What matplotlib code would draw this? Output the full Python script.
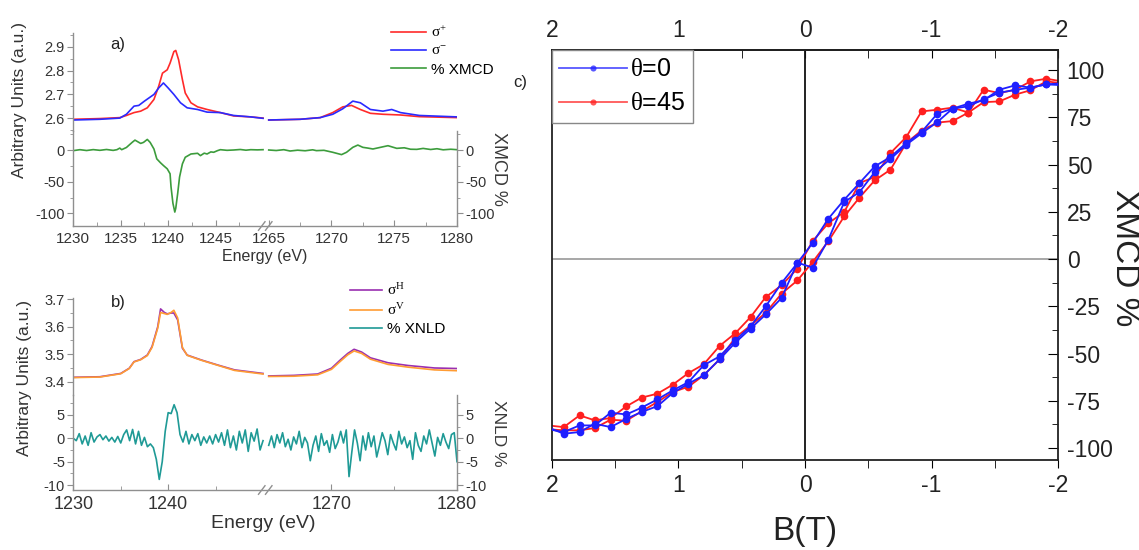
import numpy as np
import matplotlib
matplotlib.use('Agg')
import matplotlib.pyplot as plt
from matplotlib.ticker import FixedLocator, MultipleLocator

plt.rcParams['font.family'] = ['Liberation Sans', 'DejaVu Sans']
plt.rcParams['mathtext.fontset'] = 'custom'
plt.rcParams['mathtext.rm'] = 'Liberation Serif'
plt.rcParams['mathtext.it'] = 'Liberation Serif'
plt.rcParams['mathtext.bf'] = 'Liberation Serif:bold'
plt.rcParams['axes.unicode_minus'] = False

# ---------------- panel a data (XMCD spectra) ----------------
a_red_E_left = [1230.0, 1232.8, 1234.9, 1235.6, 1236.4, 1237.1, 1237.8, 1238.5, 1239.0, 1239.4,
                1239.9, 1240.2, 1240.6, 1240.8, 1241.1, 1241.5, 1241.8, 1242.4, 1243.1, 1244.1,
                1245.5, 1246.9, 1248.7, 1250.0]
a_red_left = [2.596, 2.599, 2.603, 2.612, 2.624, 2.630, 2.644, 2.679, 2.734, 2.789,
              2.803, 2.831, 2.879, 2.884, 2.845, 2.762, 2.706, 2.665, 2.648, 2.637,
              2.624, 2.610, 2.606, 2.601]
a_blue_E_left = [1230.0, 1232.8, 1234.9, 1235.6, 1236.4, 1236.9, 1237.5, 1238.0, 1238.5, 1239.0,
                 1239.5, 1240.0, 1240.6, 1241.3, 1242.0, 1243.1, 1244.1, 1245.5, 1246.9, 1248.7, 1250.0]
a_blue_left = [2.593, 2.596, 2.601, 2.617, 2.651, 2.654, 2.672, 2.686, 2.700, 2.727,
               2.748, 2.727, 2.700, 2.665, 2.644, 2.637, 2.626, 2.624, 2.612, 2.606, 2.600]
a_red_E_right = [1265.0, 1267.5, 1269.1, 1270.1, 1270.9, 1271.6, 1272.3, 1273.1, 1274.1, 1275.5, 1277.0, 1280.0]
a_red_right = [2.593, 2.596, 2.603, 2.624, 2.648, 2.654, 2.637, 2.621, 2.617, 2.614, 2.607, 2.603]
a_blue_E_right = [1265.0, 1267.5, 1269.1, 1270.1, 1270.9, 1271.7, 1272.3, 1273.1, 1274.1, 1274.8, 1275.5, 1277.0, 1280.0]
a_blue_right = [2.593, 2.596, 2.603, 2.617, 2.640, 2.672, 2.665, 2.637, 2.630, 2.637, 2.624, 2.612, 2.606]

a_xmcd_E_left = [1230.0, 1230.7, 1231.4, 1232.1, 1232.8, 1233.5, 1234.2, 1234.6, 1234.9, 1235.1,
                 1235.6, 1236.2, 1236.5, 1236.8, 1237.1, 1237.4, 1237.8, 1238.1, 1238.5, 1238.8,
                 1239.2, 1239.5, 1239.9, 1240.2, 1240.3, 1240.5, 1240.7, 1240.8, 1241.0, 1241.2,
                 1241.5, 1241.8, 1242.4, 1243.1, 1243.4, 1243.8, 1244.1, 1244.5, 1244.8, 1245.2,
                 1245.5, 1246.2, 1246.9, 1247.6, 1248.2, 1248.7, 1249.4, 1250.0]
a_xmcd_left = [-1, 0.5, -0.8, 0.6, -0.5, 0.8, -0.6, 0.5, 3.0, 0.5,
               4, 12, 15.6, 13, 10.4, 12, 16.7, 12, 1.6, -14,
               -20.3, -24.5, -29.7, -37.5, -58, -84, -98, -92, -69, -42.7,
               -21.9, -11.5, -6.3, -5.2, -8.9, -5, -6.3, -3, -3.6, -1,
               0.5, -0.5, 0, 0.8, -0.3, 0.5, 0.2, 0.5]
a_xmcd_E_right = [1265.0, 1265.6, 1266.2, 1266.7, 1267.3, 1267.9, 1268.5, 1268.8, 1269.4, 1270.1,
                  1270.8, 1271.2, 1271.7, 1272.1, 1272.5, 1272.9, 1273.3, 1273.9, 1274.5, 1275.2,
                  1275.8, 1276.3, 1276.8, 1277.3, 1277.9, 1278.4, 1278.9, 1279.5, 1280.0]
a_xmcd_right = [0, -0.8, 0.5, -1.6, -0.3, -1.2, 0.3, -1, -0.5, -3.6,
                -7.3, -3.6, 4.2, 7.8, 4.2, 3, 1.6, 4.2, 6.8, 2.6,
                3.5, 1.2, 1, 2.5, 0.8, 2, 0.3, 1.2, 0.5]

# ---------------- panel b data (XNLD spectra) ----------------
b_E_left = [1230.0, 1232.8, 1235.0, 1235.9, 1236.4, 1237.1, 1237.8, 1238.3, 1238.9, 1239.2,
            1239.6, 1239.9, 1240.3, 1240.6, 1241.0, 1241.5, 1242.0, 1243.5, 1245.2, 1247.0, 1250.0]
b_H_left = [3.416, 3.418, 3.430, 3.449, 3.473, 3.481, 3.497, 3.528, 3.600, 3.665,
            3.652, 3.647, 3.650, 3.650, 3.625, 3.522, 3.497, 3.479, 3.461, 3.443, 3.430]
b_V_left = [3.415, 3.417, 3.429, 3.448, 3.472, 3.480, 3.495, 3.525, 3.595, 3.652,
            3.648, 3.645, 3.652, 3.660, 3.632, 3.525, 3.496, 3.478, 3.460, 3.441, 3.428]
b_E_right = [1265.0, 1267.0, 1268.9, 1270.0, 1270.7, 1271.3, 1271.8, 1272.4, 1273.1, 1274.5,
             1276.1, 1278.2, 1280.0]
b_H_right = [3.421, 3.423, 3.428, 3.449, 3.479, 3.503, 3.518, 3.508, 3.487, 3.469, 3.459, 3.450, 3.448]
b_V_right = [3.419, 3.420, 3.425, 3.445, 3.474, 3.498, 3.512, 3.503, 3.482, 3.463, 3.453, 3.443, 3.440]

b_xnld_left = [0, -0.5, 1, -1.2, 0.5, -1.5, 1.2, -0.8, 0.3, 0.8, -0.3, 0.5, -0.6, 0.2, -0.8, 0.4,
               -1, 0.8, 1.8, -0.5, 1.9, -1.2, 1.5, -1.5, 0.2, -1.8,
               -1.2, -2, -4.5, -8.8, -5, 1.5, 5.5, 5.3, 7.2, 5.5, 0.8, -0.8, 1.5,
               -1.2, 0.8, -0.5, 1, -1.5, 0.3, -1, 0.5, -1.2, 0.8, -0.8, 1.2, -1.5, 1.8, -2, 0.5,
               -2.5, 1.5, -1, 1.8, -2.8, 1.2, -0.6, 2.0, -2.5, -0.5]
b_xnld_right = [-1.5, 0.5, -2, 0.8, -1, 1.2, -1.8, -0.2, -2.5, 0.3,
                -1.2, 1.5, -2, 0.2, -1, -4.8, -1.5, 0.5, -2.8, 1,
                -1.5, -0.5, -3, 0.8, -2.2, -0.8, 1.5, -1, 1.8, -8.2,
                -3, 1.8, -1, -4.8, 0.5, -2.5, 1.2, -1.8, 0.5, -4,
                -1.5, 1.2, -0.5, -3.5, 0.8, -1, -2.5, 1.5, -1.2, 0.3,
                -2, -0.5, -4.5, 1.2, -1.5, -2.8, 0.5, -1.2, 1.8, -1,
                -3.8, 0.2, -1.5, 1, -0.8, -2.2, 0.8, 1.2, -5]
b_xnld_E_left = np.linspace(1230, 1250, len(b_xnld_left))
b_xnld_E_right = np.linspace(1265, 1280, len(b_xnld_right))

# ---------------- panel c data (hysteresis) ----------------
B_field = [2.03, 1.905, 1.78, 1.66, 1.535, 1.41, 1.29, 1.165, 1.045, 0.92, 0.80, 0.675, 0.55, 0.43,
           0.31, 0.185, 0.06, -0.06, -0.185, -0.31, -0.43, -0.55, -0.675, -0.80, -0.92, -1.045,
           -1.165, -1.29, -1.41, -1.535, -1.66, -1.78, -1.905, -2.03]
xmcd_t0_a = [-90, -91.5, -88, -88, -81.3, -82.2, -78.6, -74.2, -69.5, -65.1, -56.2, -51.5, -43, -35.6,
             -25, -12.7, -2.1, 8.5, 21.4, 31.4, 40.2, 49, 54, 61.4, 67.2, 76.9,
             79.6, 82.2, 84, 89.6, 91.9, 90.7, 92.4, 93]
xmcd_t0_b = [-89, -92.4, -91.5, -87.1, -88.9, -84.5, -80.9, -77.8, -70.9, -65.9, -61.5, -53.1, -44.2, -36.8,
             -29.3, -20.6, -1.9, -4.5, 10.3, 30.2, 35.4, 46, 53, 60.5, 66.5, 72.5,
             79.6, 80.8, 84.5, 88, 89.5, 90.7, 92.4, 92]
xmcd_t45_a = [-88, -88.9, -82.7, -85.3, -84.1, -77.9, -73.3, -71.2, -66.5, -60.3, -55.7, -46, -39.2, -30.7,
              -20.1, -13.9, -5, 9.5, 19, 24.9, 40.2, 43.4, 56.1, 64.6, 78.1, 79,
              80.1, 77.5, 89.6, 87.8, 89.6, 94, 95.4, 94]
xmcd_t45_b = [-90, -90.6, -90.6, -89.4, -85, -85.5, -80.5, -75.6, -70.4, -67.5, -61.5, -53.1, -41.5, -35.2,
              -28.4, -18.3, -11.3, -1.6, 9.5, 22.6, 32.5, 41.6, 47.3, 61.4, 68, 72.2,
              73, 77.5, 83, 83.4, 87, 89.3, 94, 93]

# ---------------- figure ----------------
W, H = 1139, 550
fig = plt.figure(figsize=(W / 100, H / 100), dpi=100)


def box(x0, y0, x1, y1):
    return [x0 / W, 1 - y1 / H, (x1 - x0) / W, (y1 - y0) / H]


def e_fwd(e):
    e = np.asarray(e, dtype=float)
    return np.where(e <= 1250, e,
                    np.where(e >= 1265, 1250.6 + (e - 1265) * 1.323, 1250 + (e - 1250) * 0.04))


def e_inv(u):
    u = np.asarray(u, dtype=float)
    return np.where(u <= 1250, u,
                    np.where(u >= 1250.6, 1265 + (u - 1250.6) / 1.323, 1250 + (u - 1250) / 0.04))


GRAY = '#8f8f8f'
TXT = '#333333'


def style_pair(ax_s, ax_d, xmaj, xmin, xlab, s_ticks, s_lim, d_ticks, d_minor, d_lim, s_minor):
    for ax in (ax_s, ax_d):
        ax.set_xscale('function', functions=(e_fwd, e_inv))
        ax.set_xlim(1230, 1280)
        ax.patch.set_alpha(0)
        for sp in ax.spines.values():
            sp.set_color(GRAY)
            sp.set_linewidth(1.0)
    ax_s.spines['top'].set_visible(False)
    ax_s.spines['right'].set_visible(False)
    ax_s.spines['bottom'].set_visible(False)
    ax_d.spines['top'].set_visible(False)
    ax_s.set_ylim(*s_lim)
    ax_s.yaxis.set_major_locator(FixedLocator(s_ticks))
    ax_s.yaxis.set_minor_locator(FixedLocator(s_minor))
    ax_s.set_yticklabels([f'{t:.1f}' for t in s_ticks])
    ax_s.tick_params(axis='x', which='both', bottom=False, labelbottom=False)
    ax_s.tick_params(axis='y', which='both', direction='out', color=GRAY, labelcolor=TXT,
                     labelsize=10.5, pad=2)
    ax_s.tick_params(axis='y', which='major', length=4)
    ax_s.tick_params(axis='y', which='minor', length=2.5)
    ax_d.set_ylim(*d_lim)
    ax_d.yaxis.set_major_locator(FixedLocator(d_ticks))
    ax_d.yaxis.set_minor_locator(FixedLocator(d_minor))
    ax_d.tick_params(axis='y', which='both', direction='out', left=True, right=True,
                     labelleft=True, labelright=True, color=GRAY, labelcolor=TXT,
                     labelsize=10.5, pad=2)
    ax_d.tick_params(axis='y', which='major', length=4)
    ax_d.tick_params(axis='y', which='minor', length=2.5)
    ax_d.xaxis.set_major_locator(FixedLocator(xmaj))
    ax_d.xaxis.set_minor_locator(FixedLocator(xmin))
    ax_d.set_xticklabels([str(t) for t in xmaj])
    ax_d.tick_params(axis='x', which='both', direction='in', color=GRAY, labelcolor=TXT,
                     labelsize=xlab, pad=4)
    ax_d.tick_params(axis='x', which='major', length=4)
    ax_d.tick_params(axis='x', which='minor', length=3)
    # axis-break marks on the bottom spine
    for xa, xb in ((0.4827, 0.4996), (0.5009, 0.5178)):
        ax_d.plot([xa, xb], [-0.045, 0.045], transform=ax_d.transAxes, color=GRAY,
                  lw=1.0, clip_on=False)


# ---------------- panel a ----------------
axa_s = fig.add_axes(box(73.3, 33, 457, 131))
axa_d = fig.add_axes(box(73.3, 131, 457, 226))
style_pair(axa_s, axa_d,
           xmaj=[1230, 1235, 1240, 1245, 1265, 1270, 1275, 1280],
           xmin=[1232.5, 1237.5, 1242.5, 1247.5, 1267.5, 1272.5, 1277.5],
           xlab=11,
           s_ticks=[2.6, 2.7, 2.8, 2.9], s_lim=(2.547, 2.957),
           s_minor=[2.55, 2.65, 2.75, 2.85, 2.95],
           d_ticks=[0, -50, -100], d_minor=[25, -25, -75], d_lim=(-120, 30))

RED, BLUE, GREEN = '#ff2a2a', '#2a2aff', '#3c9c3c'
l1, = axa_s.plot(a_red_E_left, a_red_left, color=RED, lw=1.2, label=r'$\sigma^{+}$')
axa_s.plot(a_red_E_right, a_red_right, color=RED, lw=1.2)
l2, = axa_s.plot(a_blue_E_left, a_blue_left, color=BLUE, lw=1.2, label=r'$\sigma^{-}$')
axa_s.plot(a_blue_E_right, a_blue_right, color=BLUE, lw=1.2)
l3, = axa_d.plot(a_xmcd_E_left, a_xmcd_left, color=GREEN, lw=1.2, label='% XMCD')
axa_d.plot(a_xmcd_E_right, a_xmcd_right, color=GREEN, lw=1.2)

fig.legend(handles=[l1, l2, l3], loc='upper left', bbox_to_anchor=(391 / W, 1 - 25 / H),
           frameon=False, fontsize=11, handlelength=2.3, handletextpad=0.35,
           labelspacing=0.28, borderpad=0, borderaxespad=0)
fig.text(118 / W, 1 - 45 / H, 'a)', fontsize=12, ha='center', va='center', color='#222')
fig.text(20 / W, 1 - 100 / H, 'Arbitrary Units (a.u.)', rotation=90, fontsize=12.5,
         ha='center', va='center', color='#333')
fig.text(499 / W, 1 - 169 / H, 'XMCD %', rotation=270, fontsize=13,
         ha='center', va='center', color='#3a3a3a')
fig.text(265 / W, 1 - 256 / H, 'Energy (eV)', fontsize=11.5, ha='center', va='center',
         color='#333')

# ---------------- panel b ----------------
axb_s = fig.add_axes(box(73.3, 298, 457, 395))
axb_d = fig.add_axes(box(73.3, 395, 457, 490))
style_pair(axb_s, axb_d,
           xmaj=[1230, 1240, 1270, 1280],
           xmin=[1235, 1245, 1275],
           xlab=13,
           s_ticks=[3.4, 3.5, 3.6, 3.7], s_lim=(3.3516, 3.7047),
           s_minor=[3.45, 3.55, 3.65],
           d_ticks=[5, 0, -5, -10], d_minor=[7.5, 2.5, -2.5, -7.5], d_lim=(-11.07, 9.28))

PURPLE, ORANGE, TEAL = '#9a2fb0', '#ff9c33', '#1f9a96'
m1, = axb_s.plot(b_E_left, b_H_left, color=PURPLE, lw=1.2, label=r'$\sigma^{H}$')
axb_s.plot(b_E_right, b_H_right, color=PURPLE, lw=1.2)
m2, = axb_s.plot(b_E_left, b_V_left, color=ORANGE, lw=1.2, label=r'$\sigma^{V}$')
axb_s.plot(b_E_right, b_V_right, color=ORANGE, lw=1.2)
m3, = axb_d.plot(b_xnld_E_left, b_xnld_left, color=TEAL, lw=1.2, label='% XNLD')
axb_d.plot(b_xnld_E_right, b_xnld_right, color=TEAL, lw=1.2)

fig.legend(handles=[m1, m2, m3], loc='upper left', bbox_to_anchor=(350 / W, 1 - 282 / H),
           frameon=False, fontsize=11, handlelength=2.1, handletextpad=0.35,
           labelspacing=0.28, borderpad=0, borderaxespad=0)
fig.text(118 / W, 1 - 302 / H, 'b)', fontsize=12, ha='center', va='center', color='#222')
fig.text(25 / W, 1 - 378 / H, 'Arbitrary Units (a.u.)', rotation=90, fontsize=12.5,
         ha='center', va='center', color='#333')
fig.text(499 / W, 1 - 433 / H, 'XNLD %', rotation=270, fontsize=12.5,
         ha='center', va='center', color='#3a3a3a')
fig.text(263 / W, 1 - 524 / H, 'Energy (eV)', fontsize=14, ha='center', va='center',
         color='#333')

# ---------------- panel c ----------------
axc = fig.add_axes(box(551.7, 50, 1058.3, 460))
axc.set_xlim(2, -2)
axc.set_ylim(-106.3, 110.6)
axc.axhline(0, color='#a0a0a0', lw=1.3, zorder=1)
axc.axvline(0, color='#111111', lw=1.3, zorder=1)
CB, CR = '#1f1fff', '#ff1f1f'
kw = dict(lw=1.3, marker='o', ms=5.5, mec='none')
p0, = axc.plot(B_field, xmcd_t0_a, color=CB, label=r'$\theta$=0', zorder=3, **kw)
axc.plot(B_field, xmcd_t0_b, color=CB, zorder=3, **kw)
p45, = axc.plot(B_field, xmcd_t45_a, color=CR, label=r'$\theta$=45', zorder=2, **kw)
axc.plot(B_field, xmcd_t45_b, color=CR, zorder=2, **kw)

for sp in axc.spines.values():
    sp.set_linewidth(1.3)
    sp.set_color('#222')
axc.yaxis.tick_right()
axc.yaxis.set_major_locator(MultipleLocator(25))
axc.yaxis.set_minor_locator(MultipleLocator(12.5))
axc.tick_params(axis='y', which='both', direction='in', left=False, right=True,
                labelsize=16.5, labelcolor='#222', pad=6)
axc.tick_params(axis='y', which='major', length=7)
axc.tick_params(axis='y', which='minor', length=4)
axc.xaxis.set_major_locator(FixedLocator([2, 1, 0, -1, -2]))
axc.xaxis.set_minor_locator(FixedLocator([1.5, 0.5, -0.5, -1.5]))
axc.tick_params(axis='x', which='both', direction='out', length=6, labelsize=16.5,
                labelcolor='#222', pad=4)
sec = axc.secondary_xaxis('top')
sec.xaxis.set_major_locator(FixedLocator([2, 1, 0, -1, -2]))
sec.xaxis.set_minor_locator(FixedLocator([1.5, 0.5, -0.5, -1.5]))
sec.tick_params(axis='x', which='both', direction='in', length=6, labelsize=16.5,
                labelcolor='#222', pad=6)
sec.spines['top'].set_linewidth(1.3)

axc.set_xlabel('B(T)', fontsize=24, color='#222')
axc.xaxis.set_label_coords(0.5, -0.175)
axc.xaxis.label.set_va('center')
fig.text(1124 / W, 1 - 258 / H, 'XMCD %', rotation=270, fontsize=24, ha='center',
         va='center', color='#222')

leg = axc.legend(handles=[p0, p45], loc='upper left', fontsize=18, handlelength=2.7,
                 handletextpad=0.15, labelspacing=0.4, borderpad=0.3, borderaxespad=0,
                 fancybox=False, numpoints=1, markerscale=0.8, framealpha=1)
leg.get_frame().set_edgecolor('#888888')
leg.get_frame().set_linewidth(1.0)
for h in leg.legend_handles:
    h.set_alpha(0.75)

fig.text(520 / W, 1 - 82 / H, 'c)', fontsize=12, ha='center', va='center', color='#222')

fig.savefig('out.png', dpi=100)
